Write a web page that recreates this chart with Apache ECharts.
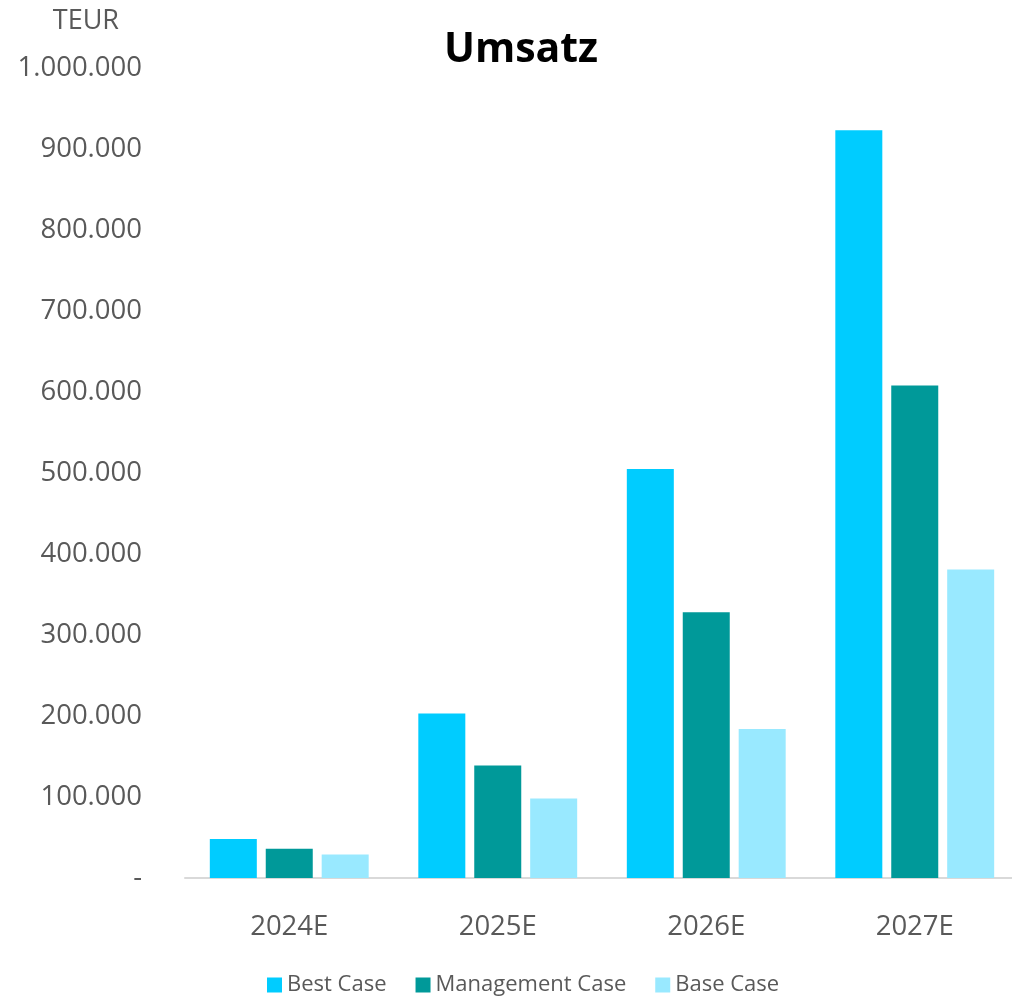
<!DOCTYPE html>
<html>
<head>
<meta charset="utf-8">
<script src="https://cdn.jsdelivr.net/npm/echarts@6/dist/echarts.min.js"></script>
<style>
  html, body { margin: 0; padding: 0; background: #fff; overflow: hidden; }
  #chart { width: 1022px; height: 999px; }
</style>
</head>
<body>
<div id="chart"></div>
<script>
var categories = ['2024E', '2025E', '2026E', '2027E']
var bestCase = [48000, 203000, 505000, 923000]
var managementCase = [36000, 139000, 328000, 608000]
var baseCase = [29000, 98000, 184000, 381000]
var seriesNames = ['Best Case', 'Management Case', 'Base Case']
var colors = ['#00ccff', '#009999', '#99e9ff']

var fontFamily = '"Open Sans", "Noto Sans", sans-serif'

function formatDe(v) {
  if (v === 0) return '-'
  return String(v).replace(/\B(?=(\d{3})+(?!\d))/g, '.')
}

var chart = echarts.init(document.getElementById('chart'))
chart.setOption({
  color: colors,
  textStyle: { fontFamily: fontFamily },
  title: {
    text: 'Umsatz',
    left: 516,
    textAlign: 'center',
    top: 25,
    textStyle: { fontSize: 41, fontWeight: 'bold', color: '#000', fontFamily: fontFamily }
  },
  legend: {
    data: seriesNames,
    bottom: -2,
    left: 262,
    itemWidth: 15,
    itemHeight: 15,
    itemGap: 29,
    icon: 'rect',
    textStyle: { fontSize: 22, color: '#595959', fontFamily: fontFamily }
  },
  grid: {
    left: 185,
    width: 834,
    top: 68,
    bottom: 121,
    containLabel: false
  },
  xAxis: {
    type: 'category',
    data: categories,
    axisLine: { lineStyle: { color: '#d9d9d9', width: 2 } },
    axisTick: { show: false },
    axisLabel: { fontSize: 27.5, color: '#595959', margin: 35, fontFamily: fontFamily }
  },
  yAxis: {
    type: 'value',
    min: 0,
    max: 1000000,
    interval: 100000,
    name: 'TEUR',
    nameLocation: 'end',
    nameGap: 33,
    nameTextStyle: { fontSize: 27, color: '#595959', align: 'right', padding: [0, 66, 0, 0], fontFamily: fontFamily },
    axisLine: { show: false },
    axisTick: { show: false },
    splitLine: { show: false },
    axisLabel: {
      fontSize: 27.5,
      color: '#595959',
      margin: 43,
      fontFamily: fontFamily,
      formatter: formatDe
    }
  },
  series: [
    { name: seriesNames[0], type: 'bar', data: bestCase, barWidth: 47, barGap: '19%' },
    { name: seriesNames[1], type: 'bar', data: managementCase, barWidth: 47, barGap: '19%' },
    { name: seriesNames[2], type: 'bar', data: baseCase, barWidth: 47, barGap: '19%' }
  ]
})
</script>
</body>
</html>
